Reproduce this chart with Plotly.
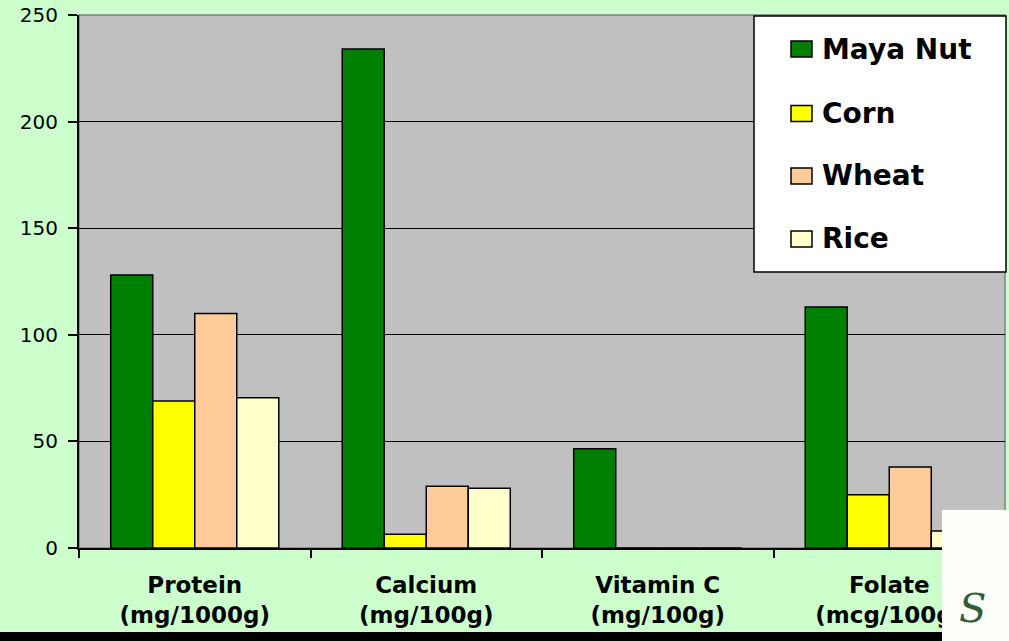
import plotly.graph_objects as go

categories = ["Protein<br>(mg/1000g)", "Calcium<br>(mg/100g)", "Vitamin C<br>(mg/100g)", "Folate<br>(mcg/100g)"]
series_names = ["Maya Nut", "Corn", "Wheat", "Rice"]
maya_nut = [128, 234, 46.5, 113]
corn = [69, 6.5, 0, 25]
wheat = [110, 29, 0, 38]
rice = [70.5, 28, 0, 8]
y_ticks = [0, 50, 100, 150, 200, 250]

colors = ["#008000", "#FFFF00", "#FFCC99", "#FFFFCC"]
values = [maya_nut, corn, wheat, rice]

W, H = 1009, 641
L, R, T, B = 79, 4, 15, 93
PW, PH = W - L - R, H - T - B


def px(x):
    return (x - L) / PW


def py(y):
    return (H - B - y) / PH


fig = go.Figure()
for name, vals, col in zip(series_names, values, colors):
    fig.add_trace(go.Bar(
        x=categories, y=vals, name=name,
        marker=dict(color=col, line=dict(color="#000000", width=1.5)),
        showlegend=False,
    ))

shapes = []
annotations = []
# plot border (gray)
shapes.append(dict(type="rect", xref="paper", yref="paper", x0=0, x1=1, y0=0, y1=1,
                   line=dict(color="#808080", width=1.5), layer="below"))
# manual legend box
shapes.append(dict(type="rect", xref="paper", yref="paper", x0=px(754), x1=px(1006),
                   y0=py(272), y1=py(16), fillcolor="#FFFFFF",
                   line=dict(color="#000000", width=1.5), layer="above"))
centers = [49, 113.5, 176, 239]
for name, col, cy in zip(series_names, colors, centers):
    shapes.append(dict(type="rect", xref="paper", yref="paper", x0=px(791), x1=px(812),
                       y0=py(cy + 8), y1=py(cy - 8), fillcolor=col,
                       line=dict(color="#000000", width=1.5), layer="above"))
    annotations.append(dict(text=name, xref="paper", yref="paper", x=px(820), y=py(cy),
                            xanchor="left", yanchor="middle", showarrow=False,
                            font=dict(family="DejaVu Sans", size=28, color="#000000", weight="bold")))
# bottom black strip
shapes.append(dict(type="rect", xref="paper", yref="paper", x0=-0.1, x1=1.01,
                   y0=py(645), y1=py(632), fillcolor="#000000", line=dict(width=0), layer="above"))
# logo patch
shapes.append(dict(type="rect", xref="paper", yref="paper", x0=px(942), x1=px(1012),
                   y0=py(645), y1=py(510), fillcolor="#FEFEFA", line=dict(width=0), layer="above"))
annotations.append(dict(text="S", xref="paper", yref="paper", x=px(972), y=py(608),
                        xanchor="center", yanchor="middle", showarrow=False,
                        font=dict(family="DejaVu Serif", size=40, color="#2F5D36", style="italic")))

fig.update_layout(
    width=W, height=H,
    margin=dict(l=L, r=R, t=T, b=B),
    paper_bgcolor="#CCFFCC",
    plot_bgcolor="#C0C0C0",
    barmode="group",
    bargap=0.274,
    bargroupgap=0,
    shapes=shapes,
    annotations=annotations,
    font=dict(family="DejaVu Sans", color="#000000"),
)
fig.update_xaxes(
    type="category", tickson="boundaries", ticks="outside", ticklen=8, tickwidth=1.5,
    tickcolor="#000000", showline=True, linecolor="#000000", linewidth=2,
    showgrid=False, ticklabelstandoff=15,
    tickfont=dict(family="DejaVu Sans", size=23, color="#000000", weight="bold"),
)
fig.update_yaxes(
    range=[0, 250], tickvals=y_ticks, ticks="outside", ticklen=9, tickwidth=1.5,
    tickcolor="#000000", showline=True, linecolor="#000000", linewidth=2,
    showgrid=True, gridcolor="#000000", gridwidth=1, zeroline=False,
    ticklabelstandoff=6,
    tickfont=dict(family="DejaVu Sans", size=20, color="#000000"),
)

fig.write_html("out.html", config={"displayModeBar": False},
               post_script="document.body.style.margin='0px';document.body.style.padding='0px';")
